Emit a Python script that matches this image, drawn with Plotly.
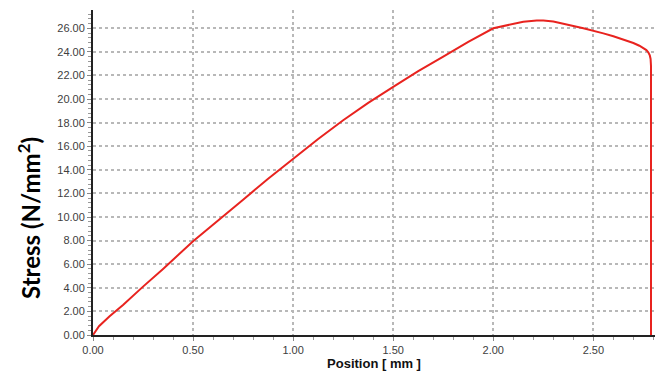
import plotly.graph_objects as go

# Data
position_mm = [0.0, 0.03, 0.083, 0.15, 0.25, 0.35, 0.5, 0.625, 0.75, 0.875, 1.0, 1.125,
               1.25, 1.375, 1.5, 1.625, 1.75, 1.875, 2.0, 2.05, 2.1, 2.15, 2.217, 2.25,
               2.3, 2.35, 2.4, 2.45, 2.5, 2.55, 2.6, 2.65, 2.7, 2.73, 2.75, 2.765, 2.775,
               2.782, 2.786, 2.788, 2.788]
stress = [0.0, 0.75, 1.58, 2.55, 4.1, 5.6, 7.95, 9.75, 11.47, 13.25, 14.95, 16.62,
          18.2, 19.68, 21.03, 22.36, 23.6, 24.85, 26.0, 26.2, 26.4, 26.56, 26.67, 26.66,
          26.58, 26.42, 26.2, 26.0, 25.8, 25.57, 25.32, 25.05, 24.75, 24.52, 24.34, 24.15, 23.95,
          23.7, 23.4, 22.8, 0.0]

y_ticks = [0, 2, 4, 6, 8, 10, 12, 14, 16, 18, 20, 22, 24, 26]
x_ticks = [0.0, 0.5, 1.0, 1.5, 2.0, 2.5]

fig = go.Figure()
fig.add_trace(go.Scatter(x=position_mm, y=stress, mode="lines",
                         line=dict(color="#e8231f", width=2), showlegend=False))

tickfont = dict(family="Liberation Sans, Arial", size=11, color="#404040")
fig.update_xaxes(range=[0, 2.808], tickvals=x_ticks,
                 ticktext=[f"{v:.2f}" for v in x_ticks],
                 showgrid=True, gridcolor="#b8b8b8", griddash="dot", gridwidth=1.5,
                 showline=True, linecolor="#222", linewidth=2,
                 ticks="outside", ticklen=4, tickcolor="#888", tickfont=tickfont,
                 minor=dict(dtick=0.1, ticks="outside", ticklen=3, tickcolor="#999", showgrid=False),
                 zeroline=False,
                 title=dict(text="<b>Position [ mm ]</b>",
                            font=dict(family="Liberation Sans, Arial", size=13, color="#111"),
                            standoff=2))
fig.update_yaxes(range=[0, 27.55], tickvals=y_ticks,
                 ticktext=[f"{v:.2f}" for v in y_ticks],
                 showgrid=True, gridcolor="#b8b8b8", griddash="dot", gridwidth=1.5,
                 showline=True, linecolor="#222", linewidth=2,
                 ticks="outside", ticklen=4, tickcolor="#888", tickfont=tickfont,
                 minor=dict(dtick=0.4, ticks="outside", ticklen=3, tickcolor="#999", showgrid=False),
                 zeroline=False)

fig.add_annotation(text="<b>Stress (N/mm<sup>2</sup>)</b>", textangle=-90,
                   xref="paper", yref="paper", x=0, y=0.36, xanchor="center", yanchor="middle",
                   xshift=-64, showarrow=False,
                   font=dict(family="Lato, Open Sans", size=24, color="#000"))

fig.update_layout(width=655, height=376, margin=dict(l=93, r=0, t=10, b=41),
                  plot_bgcolor="white", paper_bgcolor="white")
fig.write_html("out.html")
